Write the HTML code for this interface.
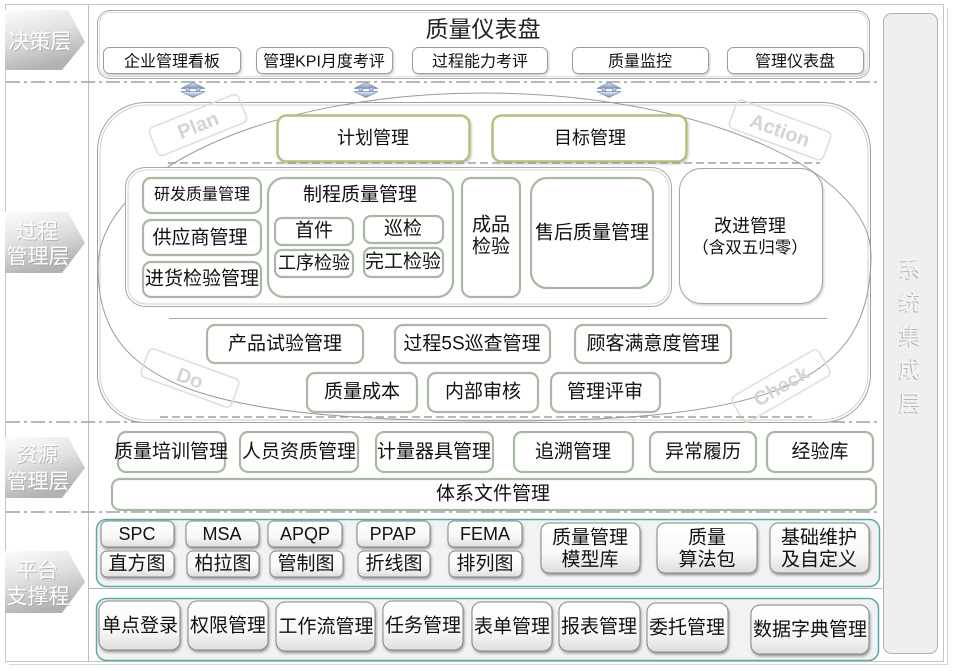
<!DOCTYPE html>
<html><head><meta charset="utf-8">
<style>
html,body{margin:0;padding:0;background:#fff;}
svg{display:block;}
text{font-family:"Liberation Sans","Noto Sans CJK SC",sans-serif;fill:#111;}
.g{fill:#fff;stroke:#a9b8a4;stroke-width:2.2;}
.b{fill:url(#btn);stroke:#858585;stroke-width:1;filter:url(#sh);}
.t16{font-size:16px;}
.t19{font-size:19px;}
.t18{font-size:18px;}
.lab{fill:#fff;font-size:21px;}
.labs{fill:#9a9a9a;font-size:21px;opacity:.6;}
.pd{fill:#d4d4d4;font-weight:bold;font-size:20px;font-family:"Liberation Sans",sans-serif;}
</style></head>
<body>
<svg width="953" height="671" viewBox="0 0 953 671" xmlns="http://www.w3.org/2000/svg">
<defs>
<linearGradient id="lab" x1="0" y1="0" x2="0.35" y2="1">
<stop offset="0" stop-color="#fdfdfd"/><stop offset="0.5" stop-color="#e0e0e0"/><stop offset="1" stop-color="#b2b2b2"/></linearGradient>
<linearGradient id="btn" x1="0" y1="0" x2="0" y2="1">
<stop offset="0" stop-color="#ffffff"/><stop offset="0.6" stop-color="#f8f8f8"/><stop offset="1" stop-color="#dedede"/></linearGradient>
<linearGradient id="arr" x1="0" y1="0" x2="0" y2="1">
<stop offset="0" stop-color="#e6ecf6"/><stop offset="1" stop-color="#7a90b9"/></linearGradient>
<filter id="sh" x="-10%" y="-15%" width="130%" height="150%">
<feDropShadow dx="1" dy="2" stdDeviation="1.2" flood-color="#000" flood-opacity="0.35"/></filter>
<filter id="sh2" x="-10%" y="-15%" width="130%" height="150%">
<feDropShadow dx="1" dy="1.5" stdDeviation="1" flood-color="#000" flood-opacity="0.2"/></filter>
</defs>

<!-- outer frame -->
<rect x="5.5" y="4.5" width="938" height="657" fill="#fff" stroke="#c6c6c6"/>
<line x1="947.5" y1="8" x2="947.5" y2="665" stroke="#cfcfcf"/>
<line x1="9" y1="664.5" x2="947" y2="664.5" stroke="#d8d8d8"/>
<line x1="88.5" y1="4" x2="88.5" y2="662" stroke="#bdbdbd"/>

<!-- dash-dot separators -->
<g stroke="#a0a0a0" stroke-width="1.5" stroke-dasharray="14 4 3 4" fill="none">
<line x1="6" y1="82" x2="880" y2="82"/>
<line x1="6" y1="422" x2="880" y2="422"/>
<line x1="6" y1="512" x2="880" y2="512"/>
</g>
<line x1="89" y1="588.5" x2="882" y2="588.5" stroke="#b0b0b0"/>

<!-- left labels -->
<g>
<polygon points="5,10 68,10 85,42 62,70 5,70" fill="url(#lab)"/>
<text class="labs" x="41" y="43" text-anchor="middle" dominant-baseline="central">决策层</text>
<text class="lab" x="40" y="42" text-anchor="middle" dominant-baseline="central">决策层</text>

<polygon points="5,212 68,212 85,243 62,273 5,273" fill="url(#lab)"/>
<text class="labs" x="38" y="233" text-anchor="middle" dominant-baseline="central">过程</text>
<text class="lab" x="37" y="232" text-anchor="middle" dominant-baseline="central">过程</text>
<text class="labs" x="39" y="258" text-anchor="middle" dominant-baseline="central">管理层</text>
<text class="lab" x="38" y="257" text-anchor="middle" dominant-baseline="central">管理层</text>

<polygon points="5,437 68,437 85,468 62,498 5,498" fill="url(#lab)"/>
<text class="labs" x="38" y="456" text-anchor="middle" dominant-baseline="central">资源</text>
<text class="lab" x="37" y="455" text-anchor="middle" dominant-baseline="central">资源</text>
<text class="labs" x="39" y="483" text-anchor="middle" dominant-baseline="central">管理层</text>
<text class="lab" x="38" y="482" text-anchor="middle" dominant-baseline="central">管理层</text>

<polygon points="5,551 68,551 85,582 62,613 5,613" fill="url(#lab)"/>
<text class="labs" x="38" y="572" text-anchor="middle" dominant-baseline="central">平台</text>
<text class="lab" x="37" y="571" text-anchor="middle" dominant-baseline="central">平台</text>
<text class="labs" x="39" y="598" text-anchor="middle" dominant-baseline="central">支撑程</text>
<text class="lab" x="38" y="597" text-anchor="middle" dominant-baseline="central">支撑程</text>
</g>

<!-- right panel -->
<rect x="883.5" y="13.5" width="54" height="640" rx="8" fill="#efefef" stroke="#b0b0b0"/>
<g text-anchor="middle">
<text x="909" y="278" style="fill:#b4b4b4;font-size:22px">系</text>
<text x="910" y="277" style="fill:#f6f6f6;font-size:22px">系</text>
<text x="909" y="311" style="fill:#b4b4b4;font-size:22px">统</text>
<text x="910" y="310" style="fill:#f6f6f6;font-size:22px">统</text>
<text x="909" y="345" style="fill:#b4b4b4;font-size:22px">集</text>
<text x="910" y="344" style="fill:#f6f6f6;font-size:22px">集</text>
<text x="909" y="378" style="fill:#b4b4b4;font-size:22px">成</text>
<text x="910" y="377" style="fill:#f6f6f6;font-size:22px">成</text>
<text x="909" y="412" style="fill:#b4b4b4;font-size:22px">层</text>
<text x="910" y="411" style="fill:#f6f6f6;font-size:22px">层</text>
</g>

<!-- top dashboard -->
<rect x="97.5" y="10.5" width="772" height="68" rx="13" fill="#fff" stroke="#a8a8a8"/>
<rect x="99.5" y="12.5" width="768" height="64" rx="11" fill="none" stroke="#dcdcdc"/>
<text x="483" y="29" text-anchor="middle" dominant-baseline="central" style="font-size:23px;fill:#222">质量仪表盘</text>
<g>
<rect x="103.5" y="47.5" width="137" height="26" rx="6" fill="#fff" stroke="#9c9c9c" filter="url(#sh2)"/>
<rect x="256.5" y="47.5" width="136" height="26" rx="6" fill="#fff" stroke="#9c9c9c" filter="url(#sh2)"/>
<rect x="412.5" y="47.5" width="135" height="26" rx="6" fill="#fff" stroke="#9c9c9c" filter="url(#sh2)"/>
<rect x="572.5" y="47.5" width="136" height="26" rx="6" fill="#fff" stroke="#9c9c9c" filter="url(#sh2)"/>
<rect x="727.5" y="47.5" width="136" height="26" rx="6" fill="#fff" stroke="#9c9c9c" filter="url(#sh2)"/>
<text class="t16" x="172" y="62" text-anchor="middle" dominant-baseline="central">企业管理看板</text>
<text class="t16" x="324" y="62" text-anchor="middle" dominant-baseline="central">管理KPI月度考评</text>
<text class="t16" x="480" y="62" text-anchor="middle" dominant-baseline="central">过程能力考评</text>
<text class="t16" x="640" y="62" text-anchor="middle" dominant-baseline="central">质量监控</text>
<text class="t16" x="795" y="62" text-anchor="middle" dominant-baseline="central">管理仪表盘</text>
</g>

<!-- double arrows -->
<g fill="url(#arr)" stroke="#7b8fb5" stroke-width="0.7">
<g transform="translate(193,0)">
<polygon points="-12,88.5 0,82.5 12,88.5"/><rect x="-7" y="88" width="3.5" height="4"/><rect x="3.5" y="88" width="3.5" height="4"/><polygon points="-12,91.5 0,97.5 12,91.5"/>
</g>
<g transform="translate(366,0)">
<polygon points="-12,88.5 0,82.5 12,88.5"/><rect x="-7" y="88" width="3.5" height="4"/><rect x="3.5" y="88" width="3.5" height="4"/><polygon points="-12,91.5 0,97.5 12,91.5"/>
</g>
<g transform="translate(609,0)">
<polygon points="-12,88.5 0,82.5 12,88.5"/><rect x="-7" y="88" width="3.5" height="4"/><rect x="3.5" y="88" width="3.5" height="4"/><polygon points="-12,91.5 0,97.5 12,91.5"/>
</g>
</g>

<!-- process layer container -->
<rect x="97.5" y="102.5" width="773" height="320" rx="48" fill="#fff" stroke="#a0a0a0"/>
<rect x="100" y="105" width="768" height="315" rx="46" fill="none" stroke="#cfcfcf"/>

<!-- PDCA ellipse -->
<path d="M98,268 C98,170 271,93 484,93 C697,93 871,170 871,255 C871,380 778,421 500,421 C198,421 98,383 98,268 Z" fill="none" stroke="#9a9a9a" stroke-width="1"/>

<!-- PDCA tags -->
<g transform="translate(198,125) rotate(-22)">
<rect x="-48" y="-15" width="96" height="30" rx="5" fill="none" stroke="#d3e5d0" stroke-width="1.5"/>
<text class="pd" x="0" y="1" text-anchor="middle" dominant-baseline="central">Plan</text></g>
<g transform="translate(780,130) rotate(20)">
<rect x="-50" y="-15" width="100" height="30" rx="5" fill="none" stroke="#d3e5d0" stroke-width="1.5"/>
<text class="pd" x="0" y="1" text-anchor="middle" dominant-baseline="central">Action</text></g>
<g transform="translate(190,378) rotate(20)">
<rect x="-48" y="-15" width="96" height="30" rx="5" fill="none" stroke="#d3e5d0" stroke-width="1.5"/>
<text class="pd" x="0" y="1" text-anchor="middle" dominant-baseline="central">Do</text></g>
<g transform="translate(781,386) rotate(-30)">
<rect x="-50" y="-15" width="100" height="30" rx="5" fill="none" stroke="#d3e5d0" stroke-width="1.5"/>
<text class="pd" x="0" y="1" text-anchor="middle" dominant-baseline="central">Check</text></g>

<!-- plan boxes -->
<rect x="277.5" y="115.5" width="192" height="46" rx="9" fill="#fff" stroke="#b4c07c" stroke-width="2.5" filter="url(#sh2)"/>
<rect x="492.5" y="115.5" width="194" height="46" rx="9" fill="#fff" stroke="#b4c07c" stroke-width="2.5" filter="url(#sh2)"/>
<text class="t18" x="373" y="138" text-anchor="middle" dominant-baseline="central">计划管理</text>
<text class="t18" x="590" y="138" text-anchor="middle" dominant-baseline="central">目标管理</text>
<line x1="168" y1="163" x2="820" y2="163" stroke="#a0a0a0" stroke-width="1.5" stroke-dasharray="8 4"/>

<!-- inner container -->
<rect x="125.5" y="167.5" width="546" height="139" rx="20" fill="#fff" stroke="#a8a8a8"/>
<rect x="128" y="170" width="541" height="134" rx="18" fill="none" stroke="#d2d2d2"/>

<rect class="g" x="143" y="178" width="118" height="35" rx="8"/>
<rect class="g" x="143" y="220" width="118" height="35" rx="8"/>
<rect class="g" x="143" y="262" width="118" height="35" rx="8"/>
<rect class="g" x="268" y="178" width="185" height="119" rx="16"/>
<rect class="g" x="275" y="218" width="78" height="27" rx="7"/>
<rect class="g" x="364" y="216" width="79" height="27" rx="7"/>
<rect class="g" x="275" y="250" width="78" height="27" rx="7"/>
<rect class="g" x="364" y="248" width="79" height="29" rx="7"/>
<rect class="g" x="462" y="178" width="58" height="119" rx="9"/>
<rect class="g" x="531" y="178" width="122" height="110" rx="16"/>

<text class="t16" x="202" y="195" text-anchor="middle" dominant-baseline="central">研发质量管理</text>
<text class="t19" x="200" y="238" text-anchor="middle" dominant-baseline="central">供应商管理</text>
<text class="t19" x="202" y="279" text-anchor="middle" dominant-baseline="central">进货检验管理</text>
<text class="t19" x="360" y="195" text-anchor="middle" dominant-baseline="central">制程质量管理</text>
<text class="t19" x="314" y="231" text-anchor="middle" dominant-baseline="central">首件</text>
<text class="t19" x="403" y="229" text-anchor="middle" dominant-baseline="central">巡检</text>
<text class="t18" x="314" y="263" text-anchor="middle" dominant-baseline="central">工序检验</text>
<text class="t19" x="403" y="262" text-anchor="middle" dominant-baseline="central">完工检验</text>
<text class="t19" x="491" y="225" text-anchor="middle" dominant-baseline="central">成品</text>
<text class="t19" x="491" y="247" text-anchor="middle" dominant-baseline="central">检验</text>
<text class="t19" x="592" y="233" text-anchor="middle" dominant-baseline="central">售后质量管理</text>

<!-- improvement -->
<rect x="679.5" y="168.5" width="143" height="135" rx="22" fill="#fff" stroke="#a6a6a6" filter="url(#sh2)"/>
<text class="t18" x="750" y="226" text-anchor="middle" dominant-baseline="central">改进管理</text>
<text x="750" y="248" text-anchor="middle" dominant-baseline="central" style="font-size:16.5px">（含双五归零）</text>

<line x1="169" y1="318.5" x2="827" y2="318.5" stroke="#a8a8a8"/>

<rect class="g" x="207" y="325" width="156" height="38" rx="8"/>
<rect class="g" x="395" y="325" width="155" height="38" rx="8"/>
<rect class="g" x="575" y="325" width="156" height="38" rx="8"/>
<rect class="g" x="307" y="373" width="110" height="39" rx="8"/>
<rect class="g" x="428" y="373" width="110" height="39" rx="8"/>
<rect class="g" x="551" y="373" width="109" height="39" rx="8"/>
<text class="t19" x="285" y="344" text-anchor="middle" dominant-baseline="central">产品试验管理</text>
<text class="t19" x="472" y="344" text-anchor="middle" dominant-baseline="central">过程5S巡查管理</text>
<text class="t19" x="653" y="344" text-anchor="middle" dominant-baseline="central">顾客满意度管理</text>
<text class="t19" x="362" y="392" text-anchor="middle" dominant-baseline="central">质量成本</text>
<text class="t19" x="483" y="392" text-anchor="middle" dominant-baseline="central">内部审核</text>
<text class="t19" x="605" y="392" text-anchor="middle" dominant-baseline="central">管理评审</text>

<line x1="160" y1="417" x2="812" y2="417" stroke="#a0a0a0" stroke-width="1.5" stroke-dasharray="8 4"/>

<!-- resource layer -->
<rect class="g" x="118" y="432" width="107" height="40" rx="8"/>
<rect class="g" x="240" y="432" width="118" height="40" rx="8"/>
<rect class="g" x="376" y="432" width="117" height="40" rx="8"/>
<rect class="g" x="514" y="432" width="119" height="40" rx="8"/>
<rect class="g" x="650" y="432" width="106" height="40" rx="8"/>
<rect class="g" x="767" y="432" width="106" height="40" rx="8"/>
<text class="t19" x="171" y="452" text-anchor="middle" dominant-baseline="central">质量培训管理</text>
<text class="t19" x="299" y="452" text-anchor="middle" dominant-baseline="central">人员资质管理</text>
<text class="t19" x="434" y="452" text-anchor="middle" dominant-baseline="central">计量器具管理</text>
<text class="t19" x="573" y="452" text-anchor="middle" dominant-baseline="central">追溯管理</text>
<text class="t19" x="703" y="452" text-anchor="middle" dominant-baseline="central">异常履历</text>
<text class="t19" x="820" y="452" text-anchor="middle" dominant-baseline="central">经验库</text>
<rect class="g" x="112" y="479" width="764" height="31" rx="8"/>
<text class="t19" x="493" y="494" text-anchor="middle" dominant-baseline="central">体系文件管理</text>

<!-- platform layer -->
<rect x="96.5" y="519.5" width="783" height="67" rx="10" fill="#f2f2f2" stroke="#5ea8a8" stroke-width="1.5"/>
<rect x="101" y="521" width="73" height="26" rx="6" class="b"/>
<rect x="186" y="521" width="73" height="26" rx="6" class="b"/>
<rect x="268" y="521" width="74" height="26" rx="6" class="b"/>
<rect x="357" y="521" width="73" height="26" rx="6" class="b"/>
<rect x="448" y="521" width="74" height="26" rx="6" class="b"/>
<rect x="101" y="551" width="73" height="26" rx="6" class="b"/>
<rect x="187" y="551" width="72" height="26" rx="6" class="b"/>
<rect x="270" y="551" width="73" height="26" rx="6" class="b"/>
<rect x="358" y="551" width="72" height="26" rx="6" class="b"/>
<rect x="449" y="551" width="73" height="26" rx="6" class="b"/>
<rect x="541" y="523" width="99" height="50" rx="8" class="b"/>
<rect x="657" y="523" width="100" height="50" rx="8" class="b"/>
<rect x="770" y="523" width="99" height="50" rx="8" class="b"/>
<text class="t18" x="137" y="534" text-anchor="middle" dominant-baseline="central">SPC</text>
<text class="t18" x="222" y="534" text-anchor="middle" dominant-baseline="central">MSA</text>
<text class="t18" x="305" y="534" text-anchor="middle" dominant-baseline="central">APQP</text>
<text class="t18" x="393" y="534" text-anchor="middle" dominant-baseline="central">PPAP</text>
<text class="t18" x="485" y="534" text-anchor="middle" dominant-baseline="central">FEMA</text>
<text class="t19" x="137" y="564" text-anchor="middle" dominant-baseline="central">直方图</text>
<text class="t19" x="223" y="564" text-anchor="middle" dominant-baseline="central">柏拉图</text>
<text class="t19" x="306" y="564" text-anchor="middle" dominant-baseline="central">管制图</text>
<text class="t19" x="394" y="564" text-anchor="middle" dominant-baseline="central">折线图</text>
<text class="t19" x="485" y="564" text-anchor="middle" dominant-baseline="central">排列图</text>
<text class="t19" x="590" y="538" text-anchor="middle" dominant-baseline="central">质量管理</text>
<text class="t19" x="590" y="560" text-anchor="middle" dominant-baseline="central">模型库</text>
<text class="t19" x="707" y="538" text-anchor="middle" dominant-baseline="central">质量</text>
<text class="t19" x="707" y="560" text-anchor="middle" dominant-baseline="central">算法包</text>
<text class="t19" x="819" y="538" text-anchor="middle" dominant-baseline="central">基础维护</text>
<text class="t19" x="819" y="560" text-anchor="middle" dominant-baseline="central">及自定义</text>

<rect x="96.5" y="598.5" width="782" height="62" rx="10" fill="#f2f2f2" stroke="#5ea8a8" stroke-width="1.5"/>
<rect x="99" y="601" width="81" height="49" rx="9" class="b"/>
<rect x="188" y="601" width="80" height="49" rx="9" class="b"/>
<rect x="276" y="602" width="99" height="49" rx="9" class="b"/>
<rect x="383" y="601" width="80" height="49" rx="9" class="b"/>
<rect x="472" y="602" width="80" height="49" rx="9" class="b"/>
<rect x="559" y="602" width="81" height="49" rx="9" class="b"/>
<rect x="647" y="603" width="81" height="49" rx="9" class="b"/>
<rect x="751" y="605" width="118" height="49" rx="9" class="b"/>
<text class="t19" x="140" y="626" text-anchor="middle" dominant-baseline="central">单点登录</text>
<text class="t19" x="228" y="626" text-anchor="middle" dominant-baseline="central">权限管理</text>
<text class="t19" x="326" y="627" text-anchor="middle" dominant-baseline="central">工作流管理</text>
<text class="t19" x="423" y="626" text-anchor="middle" dominant-baseline="central">任务管理</text>
<text class="t19" x="512" y="627" text-anchor="middle" dominant-baseline="central">表单管理</text>
<text class="t19" x="599" y="627" text-anchor="middle" dominant-baseline="central">报表管理</text>
<text class="t19" x="687" y="628" text-anchor="middle" dominant-baseline="central">委托管理</text>
<text class="t19" x="810" y="630" text-anchor="middle" dominant-baseline="central">数据字典管理</text>
</svg>
</body></html>
